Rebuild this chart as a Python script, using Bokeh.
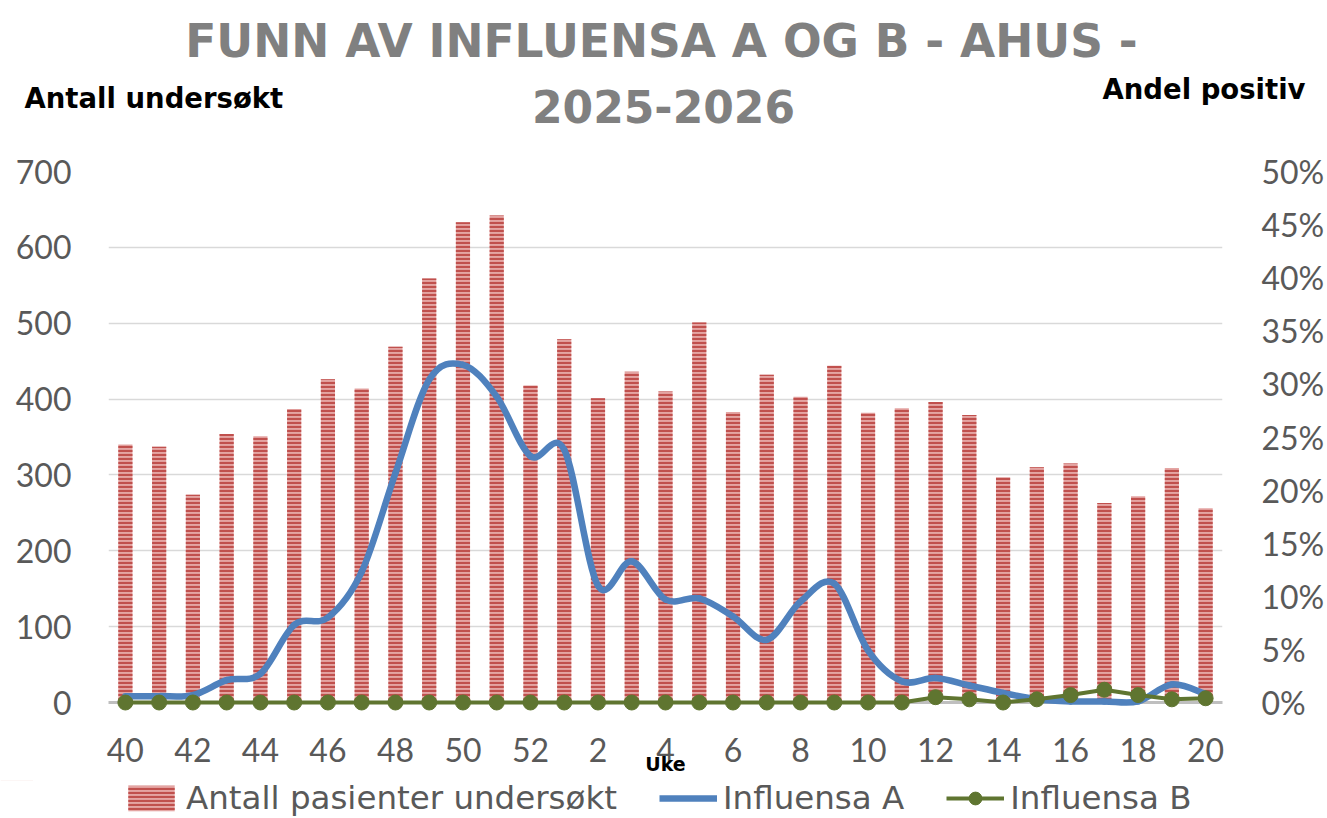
from bokeh.plotting import figure
from bokeh.layouts import column
from bokeh.models import (Range1d, LinearAxis, FixedTicker, PrintfTickFormatter,
                          Label, Legend, LegendItem, ColumnDataSource)
from bokeh.embed import file_html
from bokeh.resources import INLINE

# ---- data ----
weeks = [40, 41, 42, 43, 44, 45, 46, 47, 48, 49, 50, 51, 52,
         1, 2, 3, 4, 5, 6, 7, 8, 9, 10, 11, 12, 13, 14, 15, 16, 17, 18, 19, 20]
antall = [340, 337, 274, 354, 351, 387, 426, 414, 469, 559, 633, 642, 418,
          479, 401, 436, 410, 501, 383, 432, 403, 444, 382, 388, 396, 379,
          297, 310, 315, 263, 272, 309, 256]
influensa_a = [0.6, 0.6, 0.7, 2.1, 2.7, 7.3, 8.0, 12.3, 21.6, 30.4, 31.8, 28.8, 23.2,
               23.8, 11.0, 13.3, 9.7, 9.8, 8.1, 5.9, 9.5, 11.2, 4.9, 2.0, 2.3, 1.6,
               0.9, 0.3, 0.1, 0.1, 0.1, 1.7, 0.8]
influensa_b = [0, 0, 0, 0, 0, 0, 0, 0, 0, 0, 0, 0, 0,
               0, 0, 0, 0, 0, 0, 0, 0, 0, 0, 0, 0.5, 0.3,
               0, 0.3, 0.7, 1.2, 0.7, 0.3, 0.4]
left_ticks = [0, 100, 200, 300, 400, 500, 600, 700]
right_ticks = [0, 5, 10, 15, 20, 25, 30, 35, 40, 45, 50]

title_line1 = "FUNN AV INFLUENSA A OG B - AHUS -"
title_line2 = "2025-2026"
left_heading = "Antall undersøkt"
right_heading = "Andel positiv"
x_title = "Uke"
legend_labels = ["Antall pasienter undersøkt", "Influensa A", "Influensa B"]

idx = list(range(len(weeks)))
src = ColumnDataSource(dict(x=idx, antall=antall, a=influensa_a, b=influensa_b))

W = 1327
TOP_H = 140
MAIN_TOP, FRAME_H, MAIN_BOTTOM = 31, 531, 78
MAIN_H = MAIN_TOP + FRAME_H + MAIN_BOTTOM
BOT_H = 818 - TOP_H - MAIN_H

FONT = "Lato"
HEAD_FONT = "DejaVu Sans"
GRAY = "#595959"
TITLE_GRAY = "#808080"
BLUE = "#4f81bd"
GREEN = "#5f7530"
BAR_FILL = "#e4a5a3"
BAR_HATCH = "#c0504d"


def blank(height, y_range):
    f = figure(width=W, height=height, output_backend="svg", toolbar_location=None,
               x_range=Range1d(0, W), y_range=y_range, frame_align=False,
               min_border=0, outline_line_color=None)
    f.axis.visible = False
    f.grid.visible = False
    return f


# ---- top: title and axis headings ----
top = blank(TOP_H, Range1d(TOP_H, 0))
top.add_layout(Label(x=661, y=41, text=title_line1, text_align="center",
                     text_baseline="middle", text_font=HEAD_FONT, text_font_size="45.5px",
                     text_font_style="bold", text_color=TITLE_GRAY))
top.add_layout(Label(x=663, y=106, text=title_line2, text_align="center",
                     text_baseline="middle", text_font=HEAD_FONT, text_font_size="44px",
                     text_font_style="bold", text_color=TITLE_GRAY))
top.add_layout(Label(x=24, y=97, text=left_heading, text_align="left",
                     text_baseline="middle", text_font=HEAD_FONT, text_font_size="27.5px",
                     text_font_style="bold", text_color="black"))
top.add_layout(Label(x=1305, y=88, text=right_heading, text_align="right",
                     text_baseline="middle", text_font=HEAD_FONT, text_font_size="27.5px",
                     text_font_style="bold", text_color="black"))

# ---- main chart ----
p = figure(width=W, height=MAIN_H, output_backend="svg", toolbar_location=None,
           x_range=Range1d(-0.5, len(weeks) - 0.5), y_range=Range1d(0, 700),
           min_border_left=108, min_border_right=103, min_border_top=MAIN_TOP,
           min_border_bottom=MAIN_BOTTOM, frame_align=False)
p.extra_y_ranges = {"pct": Range1d(0, 50)}
p.outline_line_color = None

p.yaxis.ticker = FixedTicker(ticks=left_ticks)
p.xaxis.ticker = FixedTicker(ticks=idx[::2])
p.xaxis.major_label_overrides = {i: str(weeks[i]) for i in idx}
p.xaxis.axis_label = x_title
p.xaxis.axis_label_text_font = HEAD_FONT
p.xaxis.axis_label_text_font_style = "bold"
p.xaxis.axis_label_text_font_size = "19px"
p.xaxis.axis_label_text_color = "black"
p.xaxis.axis_label_standoff = -12
p.xaxis.major_label_standoff = 29
p.xaxis.axis_line_color = "#bfbfbf"
p.xaxis.axis_line_width = 3

right = LinearAxis(y_range_name="pct", ticker=FixedTicker(ticks=right_ticks),
                   formatter=PrintfTickFormatter(format="%d%%"))
p.add_layout(right, "right")

for ax in [p.xaxis[0], p.yaxis[0], right]:
    ax.major_tick_line_color = None
    ax.minor_tick_line_color = None
    ax.major_label_text_font = FONT
    ax.major_label_text_font_size = "32px"
    ax.major_label_text_color = GRAY
p.yaxis[0].axis_line_color = None
right.axis_line_color = None
p.yaxis[0].major_label_standoff = 31
right.major_label_standoff = 33

p.xgrid.grid_line_color = None
p.ygrid.grid_line_color = "#d9d9d9"
p.ygrid.grid_line_width = 1.5

bar_style = dict(fill_color=BAR_FILL, line_color=None, hatch_pattern="horizontal_line",
                 hatch_color=BAR_HATCH, hatch_scale=4, hatch_weight=2.2)
p.vbar(x="x", top="antall", width=0.42, source=src, **bar_style)

# smooth Influensa A line: cubic Bezier segments through the data points
xs, ys = idx, influensa_a
n = len(xs)
seg = dict(x0=[], y0=[], x1=[], y1=[], cx0=[], cy0=[], cx1=[], cy1=[])
for i in range(n - 1):
    xp, yp = (xs[i - 1], ys[i - 1]) if i > 0 else (xs[i], ys[i])
    xn, yn = (xs[i + 2], ys[i + 2]) if i + 2 < n else (xs[i + 1], ys[i + 1])
    seg["x0"].append(xs[i]); seg["y0"].append(ys[i])
    seg["x1"].append(xs[i + 1]); seg["y1"].append(ys[i + 1])
    seg["cx0"].append(xs[i] + (xs[i + 1] - xp) / 6.0)
    seg["cy0"].append(ys[i] + (ys[i + 1] - yp) / 6.0)
    seg["cx1"].append(xs[i + 1] - (xn - xs[i]) / 6.0)
    seg["cy1"].append(ys[i + 1] - (yn - ys[i]) / 6.0)
bz = p.bezier(source=ColumnDataSource(seg), x0="x0", y0="y0", x1="x1", y1="y1",
              cx0="cx0", cy0="cy0", cx1="cx1", cy1="cy1",
              line_color=BLUE, line_width=6.5, line_cap="round", y_range_name="pct")
bz.level = "overlay"

bl = p.line(x="x", y="b", source=src, line_color=GREEN, line_width=4, y_range_name="pct")
bs = p.scatter(x="x", y="b", source=src, size=15, fill_color=GREEN, line_color=GREEN,
               y_range_name="pct")
bl.level = "overlay"
bs.level = "overlay"

# ---- bottom: legend (proxy renderers share the data but lie outside this strip's range) ----
bot = blank(BOT_H, Range1d(-2000, -1000))
r_bar = bot.vbar(x="x", top="antall", width=0.42, source=src, **bar_style)
r_a = bot.line(x="x", y="a", source=src, line_color=BLUE, line_width=6.5)
r_bl = bot.line(x="x", y="b", source=src, line_color=GREEN, line_width=4)
r_bs = bot.scatter(x="x", y="b", source=src, size=15, fill_color=GREEN, line_color=GREEN)
legend = Legend(items=[
    LegendItem(label=legend_labels[0], renderers=[r_bar]),
    LegendItem(label=legend_labels[1], renderers=[r_a]),
    LegendItem(label=legend_labels[2], renderers=[r_bl, r_bs]),
], location=(122, 1), orientation="horizontal", glyph_width=58, glyph_height=32,
    label_standoff=6, spacing=42, padding=0, margin=0,
    border_line_color=None, background_fill_alpha=0,
    label_text_font=HEAD_FONT, label_text_font_size="32.5px", label_text_color=GRAY)
bot.add_layout(legend)

layout = column(top, p, bot, spacing=0)
open("out.html", "w").write(file_html(layout, INLINE))
